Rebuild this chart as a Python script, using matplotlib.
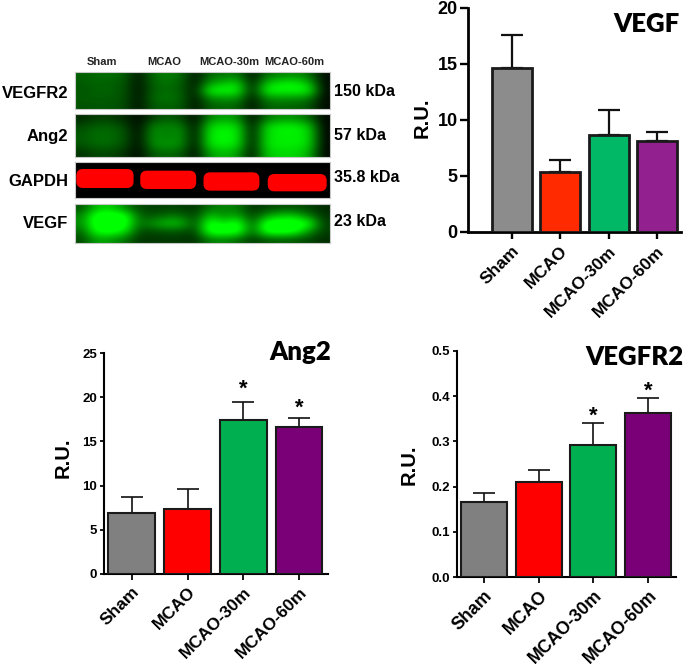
import matplotlib
matplotlib.use('Agg')
import numpy as np
import matplotlib.pyplot as plt
from matplotlib.colors import LinearSegmentedColormap
from matplotlib.patches import FancyBboxPatch

W, H = 685, 672

groups = ['Sham', 'MCAO', 'MCAO-30m', 'MCAO-60m']

vegf_vals = [14.6, 5.4, 8.7, 8.1]
vegf_tops = [17.6, 6.4, 10.85, 8.95]
ang2_vals = [6.9, 7.4, 17.4, 16.6]
ang2_tops = [8.7, 9.6, 19.5, 17.7]
ang2_stars = [None, None, 20.9, 18.7]
vegfr2_vals = [0.166, 0.21, 0.291, 0.363]
vegfr2_tops = [0.186, 0.236, 0.34, 0.395]
vegfr2_stars = [None, None, 0.356, 0.41]

vegf_colors = ['#8c8c8c', '#ff2a00', '#00b865', '#92208f']
low_colors = ['#808080', '#ff0000', '#00b050', '#7a0078']

# green band intensity, read lane by lane off the blots
blot_vegfr2 = [
    [95, 105, 110, 95, 15, 110, 125, 110, 15, 105, 115, 125, 15, 110, 130, 140, 115, 10],
    [90, 100, 95, 85, 15, 100, 115, 95, 15, 150, 190, 215, 15, 190, 235, 245, 190, 10],
    [85, 95, 100, 80, 15, 95, 105, 95, 15, 255, 255, 255, 15, 255, 255, 255, 255, 10],
    [90, 95, 90, 80, 15, 105, 120, 100, 15, 140, 150, 150, 15, 140, 150, 145, 130, 10],
    [80, 85, 85, 75, 15, 90, 95, 90, 15, 95, 100, 100, 15, 95, 100, 95, 85, 10],
]
blot_ang2 = [
    [40, 60, 60, 40, 5, 60, 90, 70, 5, 130, 160, 140, 5, 110, 140, 140, 100, 5],
    [75, 100, 100, 75, 5, 135, 135, 135, 5, 225, 240, 230, 5, 220, 250, 250, 215, 5],
    [90, 110, 110, 85, 5, 150, 115, 150, 5, 240, 250, 240, 5, 225, 235, 240, 225, 5],
    [85, 105, 105, 80, 5, 145, 155, 145, 5, 235, 245, 235, 5, 230, 240, 240, 225, 5],
    [50, 70, 70, 50, 5, 90, 100, 90, 5, 160, 185, 160, 5, 200, 215, 215, 180, 5],
]
blot_vegf = [
    [80, 190, 210, 130, 70, 60, 65, 60, 50, 110, 130, 120, 45, 65, 75, 75, 65, 40],
    [130, 290, 290, 290, 100, 80, 110, 110, 60, 200, 140, 170, 60, 150, 200, 200, 120, 50],
    [140, 300, 300, 300, 110, 150, 200, 190, 70, 300, 220, 300, 80, 300, 300, 300, 280, 60],
    [100, 270, 280, 240, 70, 70, 80, 80, 60, 300, 300, 300, 90, 290, 300, 280, 150, 60],
    [70, 160, 150, 110, 50, 55, 55, 55, 45, 120, 130, 100, 55, 80, 90, 80, 65, 45],
]
gapdh_bands = [(228, 172, 57), (420, 168, 55), (610, 168, 55), (803, 177, 52)]


def px_axes(left, top, right, bottom):
    return fig.add_axes([left / W, 1 - bottom / H, (right - left) / W, (bottom - top) / H])


def px_text(x, y, s, **kw):
    fig.text(x / W, 1 - y / H, s, **kw)


def bar_panel(box, xlim, vals, tops, stars, colors, ymax, yticks, yfmt, title, title_xy,
              width, lw, tick_font, ylab_x, ylab_y, label_size, ylen, xlen):
    ax = px_axes(*box)
    x = np.arange(len(vals))
    ax.errorbar(x, vals, yerr=[np.zeros(len(vals)), np.array(tops) - np.array(vals)],
                fmt='none', ecolor='#111111', elinewidth=lw * 0.8, capsize=8,
                capthick=lw * 0.8, zorder=2)
    ax.bar(x, vals, width=width, color=colors, edgecolor='#1a1a1a', linewidth=lw, zorder=3)
    ax.set_xlim(*xlim)
    ax.set_ylim(0, ymax)
    ax.patch.set_alpha(0)
    for s in ['top', 'right']:
        ax.spines[s].set_visible(False)
    ax.spines['left'].set_linewidth(lw)
    ax.spines['bottom'].set_linewidth(lw)
    ax.set_yticks(yticks)
    ax.set_yticklabels([yfmt % t for t in yticks], **tick_font)
    ax.set_xticks(x)
    ax.set_xticklabels(groups, rotation=45, ha='right', rotation_mode='anchor',
                       family='Liberation Sans', fontweight='bold', fontsize=label_size)
    ax.tick_params(axis='y', width=lw * 0.85, length=ylen, pad=2)
    ax.tick_params(axis='x', width=lw * 0.85, length=xlen, pad=3)
    px_text(ylab_x, ylab_y, 'R.U.', rotation=90, ha='center', va='center',
            family='Liberation Sans', fontweight='bold', fontsize=14.5)
    px_text(title_xy[0], title_xy[1], title, ha='right', va='center',
            family='Lato', fontweight='heavy', fontsize=18.5)
    for i, s in enumerate(stars):
        if s is not None:
            ax.text(i, s, '*', ha='center', va='center',
                    family='Liberation Sans', fontweight='bold', fontsize=16)
    return ax


fig = plt.figure(figsize=(W / 100, H / 100), dpi=100)

green = LinearSegmentedColormap.from_list('blot', ['#000000', '#00ff00'])
for rows, box in [(blot_vegfr2, (75, 72, 330, 109)), (blot_ang2, (75, 114, 330, 157)),
                  (blot_vegf, (75, 204, 330, 243))]:
    ax = px_axes(*box)
    ax.imshow(rows, cmap=green, vmin=0, vmax=255, aspect='auto', interpolation='bicubic')
    ax.set_xticks([])
    ax.set_yticks([])
    for s in ax.spines.values():
        s.set_color('#c8c8c8')

ax = px_axes(75, 162, 330, 198)
ax.set_facecolor('black')
ax.set_xlim(224, 990)
ax.set_ylim(475, 367)
ax.set_xticks([])
ax.set_yticks([])
for s in ax.spines.values():
    s.set_color('#c8c8c8')
for i, (bx, bw, bh) in enumerate(gapdh_bands):
    top = 388 + i * 5
    ax.add_patch(FancyBboxPatch((bx + 20, top + 20), bw - 40, bh - 40,
                                boxstyle='round,pad=20,rounding_size=20',
                                facecolor='#ff0000', edgecolor='none', mutation_aspect=1))

for name, x in zip(groups, [102, 164, 229, 294]):
    px_text(x, 62, name, ha='center', va='center', family='Liberation Sans',
            fontweight='bold', fontsize=8, color='#222222')
for name, y, kda, ky in [('VEGFR2', 93, '150 kDa', 91), ('Ang2', 137, '57 kDa', 135),
                         ('GAPDH', 181, '35.8 kDa', 178), ('VEGF', 224, '23 kDa', 222)]:
    px_text(68, y, name, ha='right', va='center', family='Liberation Sans',
            fontweight='bold', fontsize=12)
    px_text(334, ky, kda, ha='left', va='center', family='Liberation Sans',
            fontweight='bold', fontsize=11.5)

small = {'family': 'Liberation Sans', 'fontweight': 'bold', 'fontsize': 9.5}
wide = {'family': 'Liberation Sans', 'fontweight': 'bold', 'fontsize': 13}

bar_panel((468, 8, 681, 232), (-0.91, 3.5), vegf_vals, vegf_tops, [None] * 4, vegf_colors, 20,
          [0, 5, 10, 15, 20], '%d', 'VEGF', (680, 24), 0.83, 2.0, wide, 422, 118, 12.5, 5.5, 5)
bar_panel((104, 353, 328, 574), (-0.5, 3.52), ang2_vals, ang2_tops, ang2_stars, low_colors, 25,
          [0, 5, 10, 15, 20, 25], '%d', 'Ang2', (331, 352), 0.84, 1.5, small, 63, 458, 12.5, 3, 4.5)
bar_panel((457, 351, 676, 577), (-0.49, 3.51), vegfr2_vals, vegfr2_tops, vegfr2_stars, low_colors, 0.5,
          [0, 0.1, 0.2, 0.3, 0.4, 0.5], '%.1f', 'VEGFR2', (683, 357), 0.84, 1.5, small, 409, 465, 12.8, 3, 4.5)

fig.savefig('out.png', dpi=100)
